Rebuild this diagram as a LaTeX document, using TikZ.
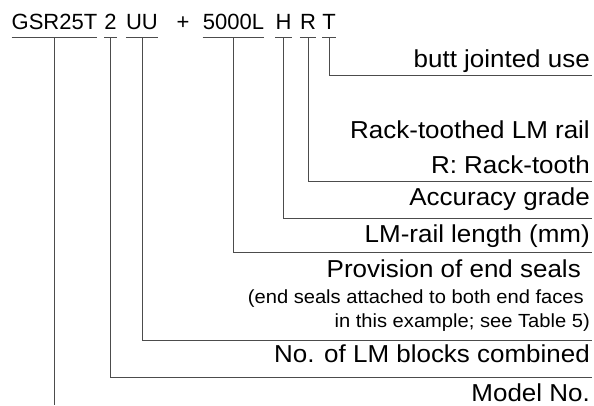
\documentclass[tikz,border=0pt]{standalone}
\usepackage{fontspec}
\setmainfont{Liberation Sans}
\newfontfamily\widesans[FakeStretch=1.06]{Liberation Sans}
\tikzset{
  codepart/.style={anchor=base, inner sep=0pt, text depth=8pt, font=\fontsize{22}{26}\selectfont},
  desc/.style={anchor=base east, inner sep=0pt, font=\widesans\fontsize{24.5}{28}\selectfont},
  note/.style={anchor=base east, inner sep=0pt, font=\widesans\fontsize{19}{22}\selectfont},
  leader/.style={line width=0.8pt, draw=black!70},
}
\begin{document}
\begin{tikzpicture}[x=1pt,y=-1pt]
  \useasboundingbox (0,0) rectangle (594,405);

  % Model code
  \foreach \nm/\x/\txt in {gsr/54.5/GSR25T, two/110.5/2, uu/142/UU, len/233.5/5000L, acc/283.5/H, rack/308/R, butt/329/T}
    \node[codepart] (\nm) at (\x,29) {\txt};
  \node[codepart] (plus) at (183,29) {+};

  % Underlines
  \foreach \nm in {gsr,two,uu,len,acc,rack,butt}
    \draw[leader] (\nm.south west) -- (\nm.south east);

  % Descriptions
  \foreach \nm/\y/\txt in {dbutt/67/butt jointed use, drackrail/138/Rack-toothed LM rail,
      drack/173/R: Rack-tooth, dacc/205/Accuracy grade, dlen/242/LM-rail length (mm),
      dtwo/362/No. of LM blocks combined, dgsr/401/Model No.}
    \node[desc] (\nm) at (590,\y) {\txt};
  \node[desc] (duu) at (581,277) {Provision of end seals};
  \node[note] (seal1) at (584,303) {(end seals attached to both end faces};
  \node[note] (seal2) at (590,327) {in this example; see Table 5)};

  % Leaders
  \foreach \nm/\y in {butt/75, rack/181, acc/218, len/252, uu/340, two/377}
  {
    \coordinate (end-\nm) at (592,\y);
    \draw[leader] (\nm.south) |- (end-\nm);
  }
  \coordinate (end-gsr) at (54.5,405);
  \draw[leader] (gsr.south) -- (end-gsr);
\end{tikzpicture}
\end{document}
